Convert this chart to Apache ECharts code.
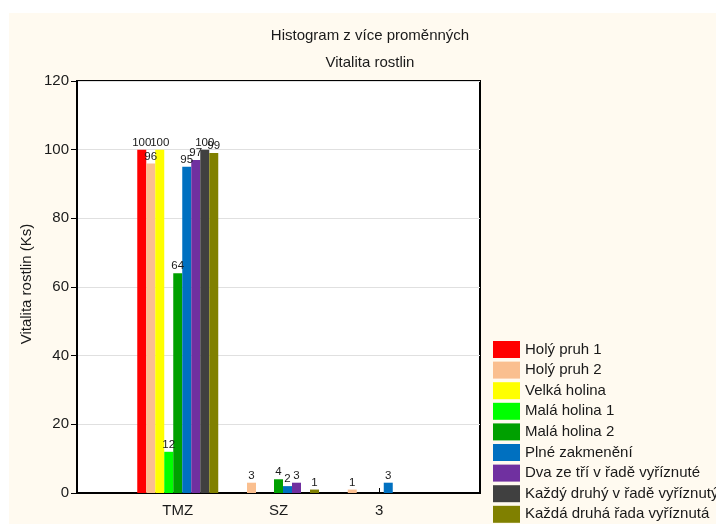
<!DOCTYPE html>
<html>
<head>
<meta charset="utf-8">
<script src="https://cdn.jsdelivr.net/npm/echarts@6/dist/echarts.min.js"></script>
<style>
  html, body { margin: 0; padding: 0; background: #ffffff; }
  #chart { width: 716px; height: 524px; }
</style>
</head>
<body>
<div id="chart"></div>
<script>
// Categories on the x axis
const categories = ['TMZ', 'SZ', '3'];

// Series names (legend order)
const seriesNames = [
  'Holý pruh 1',
  'Holý pruh 2',
  'Velká holina',
  'Malá holina 1',
  'Malá holina 2',
  'Plné zakmenění',
  'Dva ze tří v řadě vyříznuté',
  'Každý druhý v řadě vyříznutý',
  'Každá druhá řada vyříznutá'
];

// Values per series, one per category (TMZ, SZ, 3)
const holyPruh1 = [100, 0, 0];
const holyPruh2 = [96, 3, 1];
const velkaHolina = [100, 0, 0];
const malaHolina1 = [12, 0, 0];
const malaHolina2 = [64, 4, 0];
const plneZakmeneni = [95, 2, 3];
const dvaZeTri = [97, 3, 0];
const kazdyDruhy = [100, 0, 0];
const kazdaDruhaRada = [99, 1, 0];

const seriesValues = [
  holyPruh1, holyPruh2, velkaHolina, malaHolina1, malaHolina2,
  plneZakmeneni, dvaZeTri, kazdyDruhy, kazdaDruhaRada
];

const seriesColors = [
  '#ff0000', '#fabf8f', '#ffff00', '#00ff00', '#00a000',
  '#0070c0', '#7030a0', '#404040', '#808000'
];

// Y axis ticks
const yTicks = [0, 20, 40, 60, 80, 100, 120];

const fontFamily = 'Liberation Sans, Arial, sans-serif';

// Pad the axis with empty slots on both ends so the groups sit between the frame edges
const axisData = [''].concat(categories, ['']);

const series = seriesNames.map((name, i) => ({
  name: name,
  type: 'bar',
  barWidth: 9,
  barGap: '0%',
  itemStyle: { color: seriesColors[i] },
  data: [null].concat(seriesValues[i], [null]),
  label: {
    show: true,
    position: 'top',
    distance: 1,
    color: '#1a1a1a',
    fontSize: 11.5,
    fontFamily: fontFamily,
    formatter: p => (p.value ? String(p.value) : '')
  }
}));

const chart = echarts.init(document.getElementById('chart'), null, { renderer: 'canvas' });

chart.setOption({
  animation: false,
  backgroundColor: '#ffffff',
  textStyle: { fontFamily: fontFamily },
  graphic: [
    {
      type: 'rect',
      z: -10,
      silent: true,
      shape: { x: 9, y: 13, width: 707, height: 511 },
      style: { fill: '#fffaf0' }
    },
    {
      type: 'text',
      z: 10,
      x: 370, y: 36,
      style: {
        text: 'Histogram z více proměnných',
        fill: '#1a1a1a', font: '15px ' + fontFamily,
        textAlign: 'center', textVerticalAlign: 'middle'
      }
    },
    {
      type: 'text',
      z: 10,
      x: 370, y: 63,
      style: {
        text: 'Vitalita rostlin',
        fill: '#1a1a1a', font: '15px ' + fontFamily,
        textAlign: 'center', textVerticalAlign: 'middle'
      }
    },
    {
      type: 'text',
      z: 10,
      x: 27, y: 284,
      rotation: Math.PI / 2,
      style: {
        text: 'Vitalita rostlin (Ks)',
        fill: '#1a1a1a', font: '15px ' + fontFamily,
        textAlign: 'center', textVerticalAlign: 'middle'
      }
    }
  ],
  legend: {
    orient: 'vertical',
    left: 493,
    top: 341,
    itemWidth: 27,
    itemHeight: 17,
    itemGap: 3.6,
    icon: 'rect',
    data: seriesNames,
    textStyle: { fontSize: 15, color: '#1a1a1a', fontFamily: fontFamily },
    padding: 0
  },
  grid: {
    left: 77,
    top: 81,
    right: 236,
    bottom: 31,
    show: true,
    backgroundColor: '#ffffff',
    borderColor: '#000',
    borderWidth: 2
  },
  xAxis: {
    type: 'category',
    data: axisData,
    boundaryGap: false,
    axisLine: { show: true, lineStyle: { color: '#000', width: 2 } },
    axisTick: {
      show: true,
      inside: true,
      length: 5,
      lineStyle: { color: '#000', width: 1 },
      interval: (idx) => idx > 0 && idx < axisData.length - 1
    },
    axisLabel: {
      color: '#1a1a1a',
      fontSize: 15,
      margin: 10,
      interval: 0
    },
    splitLine: { show: false }
  },
  yAxis: {
    type: 'value',
    min: yTicks[0],
    max: yTicks[yTicks.length - 1],
    interval: yTicks[1] - yTicks[0],
    axisLine: { show: true, lineStyle: { color: '#000', width: 2 } },
    axisTick: { show: true, length: 6, lineStyle: { color: '#000', width: 1 } },
    axisLabel: { color: '#1a1a1a', fontSize: 15, margin: 8 },
    splitLine: { show: true, lineStyle: { color: '#e0e0e0', width: 1 } }
  },
  series: series
});
</script>
</body>
</html>
